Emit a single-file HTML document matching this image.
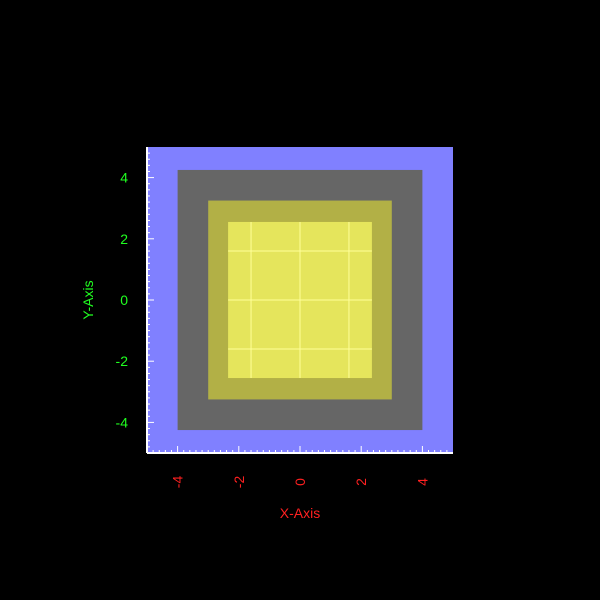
<!DOCTYPE html>
<html><head><meta charset="utf-8"><style>
html,body{margin:0;padding:0;background:#000;width:600px;height:600px;overflow:hidden}
text{font-family:"Liberation Sans",sans-serif;font-size:14px}
</style></head><body>
<svg id="chart" width="600" height="600" xmlns="http://www.w3.org/2000/svg">
<rect x="0" y="0" width="600" height="600" fill="#000"/>
<g id="plot"></g>
<g id="axes"></g>
<text x="300" y="518" fill="#ff2020" text-anchor="middle">X-Axis</text>
<text x="0" y="0" fill="#20ff20" text-anchor="middle" transform="translate(93,300) rotate(-90)">Y-Axis</text>
</svg>
<script>
const xDomain = [-5, 5];
const yDomain = [-5, 5];
const xTicks = [-4, -2, 0, 2, 4];
const yTicks = [-4, -2, 0, 2, 4];
const xTickLabels = ["-4", "-2", "0", "2", "4"];
const yTickLabels = ["-4", "-2", "0", "2", "4"];
const rectNames = ["outer-blue", "gray", "olive", "yellow"];
const rectHalfW = [5, 4, 3, 2.35];
const rectHalfH = [5, 4.25, 3.25, 2.55];
const rectColors = ["#8080ff", "#666666", "#b2b046", "#e5e55c"];
const gridX = [-1.6, 0, 1.6];
const gridY = [-1.6, 0, 1.6];

const L = 147, R = 453, T = 147, B = 453;
const sx = v => L + (v - xDomain[0]) / (xDomain[1] - xDomain[0]) * (R - L);
const sy = v => B - (v - yDomain[0]) / (yDomain[1] - yDomain[0]) * (B - T);
const NS = "http://www.w3.org/2000/svg";
function mk(tag, attrs, parent) {
  const e = document.createElementNS(NS, tag);
  for (const k in attrs) e.setAttribute(k, attrs[k]);
  parent.appendChild(e);
  return e;
}
const plot = document.getElementById('plot');
const axes = document.getElementById('axes');
rectNames.forEach((n, i) => {
  const r = mk('rect', {x: sx(-rectHalfW[i]), y: sy(rectHalfH[i]), width: sx(rectHalfW[i]) - sx(-rectHalfW[i]), height: sy(-rectHalfH[i]) - sy(rectHalfH[i]), fill: rectColors[i]}, plot);
  
  
});
const yi = rectHalfH.length - 1, xi = rectHalfW.length - 1;
gridX.forEach(v => {
  const l = mk('line', {x1: sx(v), x2: sx(v), y1: sy(rectHalfH[yi]), y2: sy(-rectHalfH[yi]), stroke: '#ffff99', 'stroke-width': 1}, plot);
  
  
});
gridY.forEach(v => {
  const l = mk('line', {y1: sy(v), y2: sy(v), x1: sx(-rectHalfW[xi]), x2: sx(rectHalfW[xi]), stroke: '#ffff99', 'stroke-width': 1}, plot);
  
  
});
// axis lines
let a = mk('line', {x1: L, x2: R, y1: B, y2: B, stroke: '#fff', 'stroke-width': 2}, axes);


a = mk('line', {x1: L, x2: L, y1: T, y2: B, stroke: '#fff', 'stroke-width': 2}, axes);


// minor ticks
for (let k = -24; k <= 24; k++) {
  const v = k * 0.2;
  const major = Math.abs(v - Math.round(v / 2) * 2) < 1e-6;
  const len = major ? 7 : 3;
  const t1 = mk('line', {x1: sx(v), x2: sx(v), y1: B, y2: B - len, stroke: '#fff', 'stroke-width': 1}, axes);
  
  
  const t2 = mk('line', {x1: L, x2: L + len, y1: sy(v), y2: sy(v), stroke: '#fff', 'stroke-width': 1}, axes);
  
  
}
xTicks.forEach((v, i) => {
  const t = mk('text', {x: 0, y: 0, fill: '#ff2020', 'text-anchor': 'middle', transform: `translate(${sx(v) + 5},482) rotate(-90)`}, axes);
  t.textContent = xTickLabels[i];
  
  
});
yTicks.forEach((v, i) => {
  const t = mk('text', {x: 128, y: sy(v) + 5, fill: '#20ff20', 'text-anchor': 'end'}, axes);
  t.textContent = yTickLabels[i];
  
  
});
</script>
</body></html>
